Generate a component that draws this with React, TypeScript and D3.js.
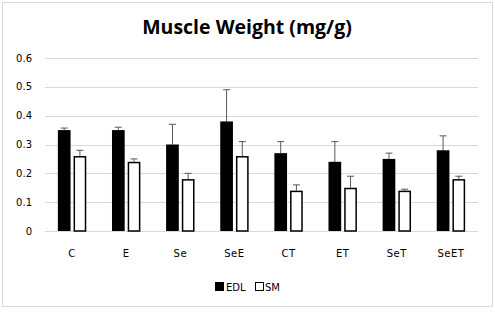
import React from "react";
import * as d3 from "d3";

const categories = ["C", "E", "Se", "SeE", "CT", "ET", "SeT", "SeET"];
const edl = [0.35, 0.35, 0.30, 0.38, 0.27, 0.24, 0.25, 0.28];
const edlErr = [0.007, 0.01, 0.07, 0.11, 0.04, 0.07, 0.02, 0.05];
const sm = [0.26, 0.24, 0.18, 0.26, 0.14, 0.15, 0.14, 0.18];
const smErr = [0.02, 0.01, 0.02, 0.05, 0.02, 0.04, 0.005, 0.01];
const yTicks = [0, 0.1, 0.2, 0.3, 0.4, 0.5, 0.6];
const seriesNames = ["EDL", "SM"];

export default function App() {
  const W = 495, H = 321;
  const left = 45, right = 478, top = 58, bottom = 231;
  const x = d3.scaleBand<string>().domain(categories).range([left, right]).paddingInner(0).paddingOuter(0);
  const y = d3.scaleLinear().domain([0, 0.6]).range([bottom, top]);
  const bw = 12.7, gap = 3;
  const titleFont = "'Open Sans', sans-serif";
  const font = "'DejaVu Sans', sans-serif";
  const series = [
    { name: seriesNames[0], vals: edl, errs: edlErr, fill: "#000", stroke: "#000", off: -gap / 2 - bw },
    { name: seriesNames[1], vals: sm, errs: smErr, fill: "#fff", stroke: "#000", off: gap / 2 },
  ];
  return (
    <svg width={W} height={H} style={{ position: "absolute", left: 0, top: 0, background: "#fff" }}>
      <rect x={2.5} y={2.5} width={490} height={304} fill="#fff" stroke="#d9d9d9" strokeWidth={1} />
      <text x={247} y={34} textAnchor="middle" fontFamily={titleFont} fontWeight="bold" fontSize={19.5} fill="#000">
        Muscle Weight (mg/g)
      </text>
      {yTicks.map((t) => (
        <g key={t}>
          <line x1={left} x2={right} y1={Math.round(y(t)) + 0.5} y2={Math.round(y(t)) + 0.5} stroke="#d9d9d9" strokeWidth={1} />
          <text x={32} y={y(t) + 3.5} textAnchor="end" fontFamily={font} fontSize={10} fill="#000">
            {t === 0 ? "0" : t.toFixed(1)}
          </text>
        </g>
      ))}
      {series.map((s) =>
        categories.map((c, i) => {
          const cx = (x(c) as number) + x.bandwidth() / 2;
          const bx = cx + s.off;
          const mid = bx + bw / 2;
          const yTop = y(s.vals[i]);
          const yErr = y(s.vals[i] + s.errs[i]);
          const isWhite = s.fill === "#fff";
          return (
            <g key={s.name + c}>
              <line x1={mid} x2={mid} y1={yTop} y2={yErr} stroke="#595959" strokeWidth={1} />
              <line x1={mid - 3.5} x2={mid + 3.5} y1={yErr} y2={yErr} stroke="#595959" strokeWidth={1} />
              <rect
                x={isWhite ? bx + 0.75 : bx}
                y={isWhite ? yTop + 0.75 : yTop}
                width={isWhite ? bw - 1.5 : bw}
                height={isWhite ? bottom - yTop - 0.75 : bottom - yTop}
                fill={s.fill}
                stroke={isWhite ? s.stroke : "none"}
                strokeWidth={1.5}
              />
            </g>
          );
        })
      )}
      {categories.map((c) => (
        <text key={c} x={(x(c) as number) + x.bandwidth() / 2} y={257} textAnchor="middle" fontFamily={font} fontSize={10} letterSpacing={0.5} fill="#000">
          {c}
        </text>
      ))}
      <rect x={215} y={282} width={9} height={9} fill="#000" />
      <text x={226} y={291} fontFamily={font} fontSize={10} fill="#000">EDL</text>
      <rect x={255.5} y={282.5} width={8} height={8} fill="#fff" stroke="#000" strokeWidth={1} />
      <text x={265} y={291} fontFamily={font} fontSize={10} fill="#000">SM</text>
    </svg>
  );
}
